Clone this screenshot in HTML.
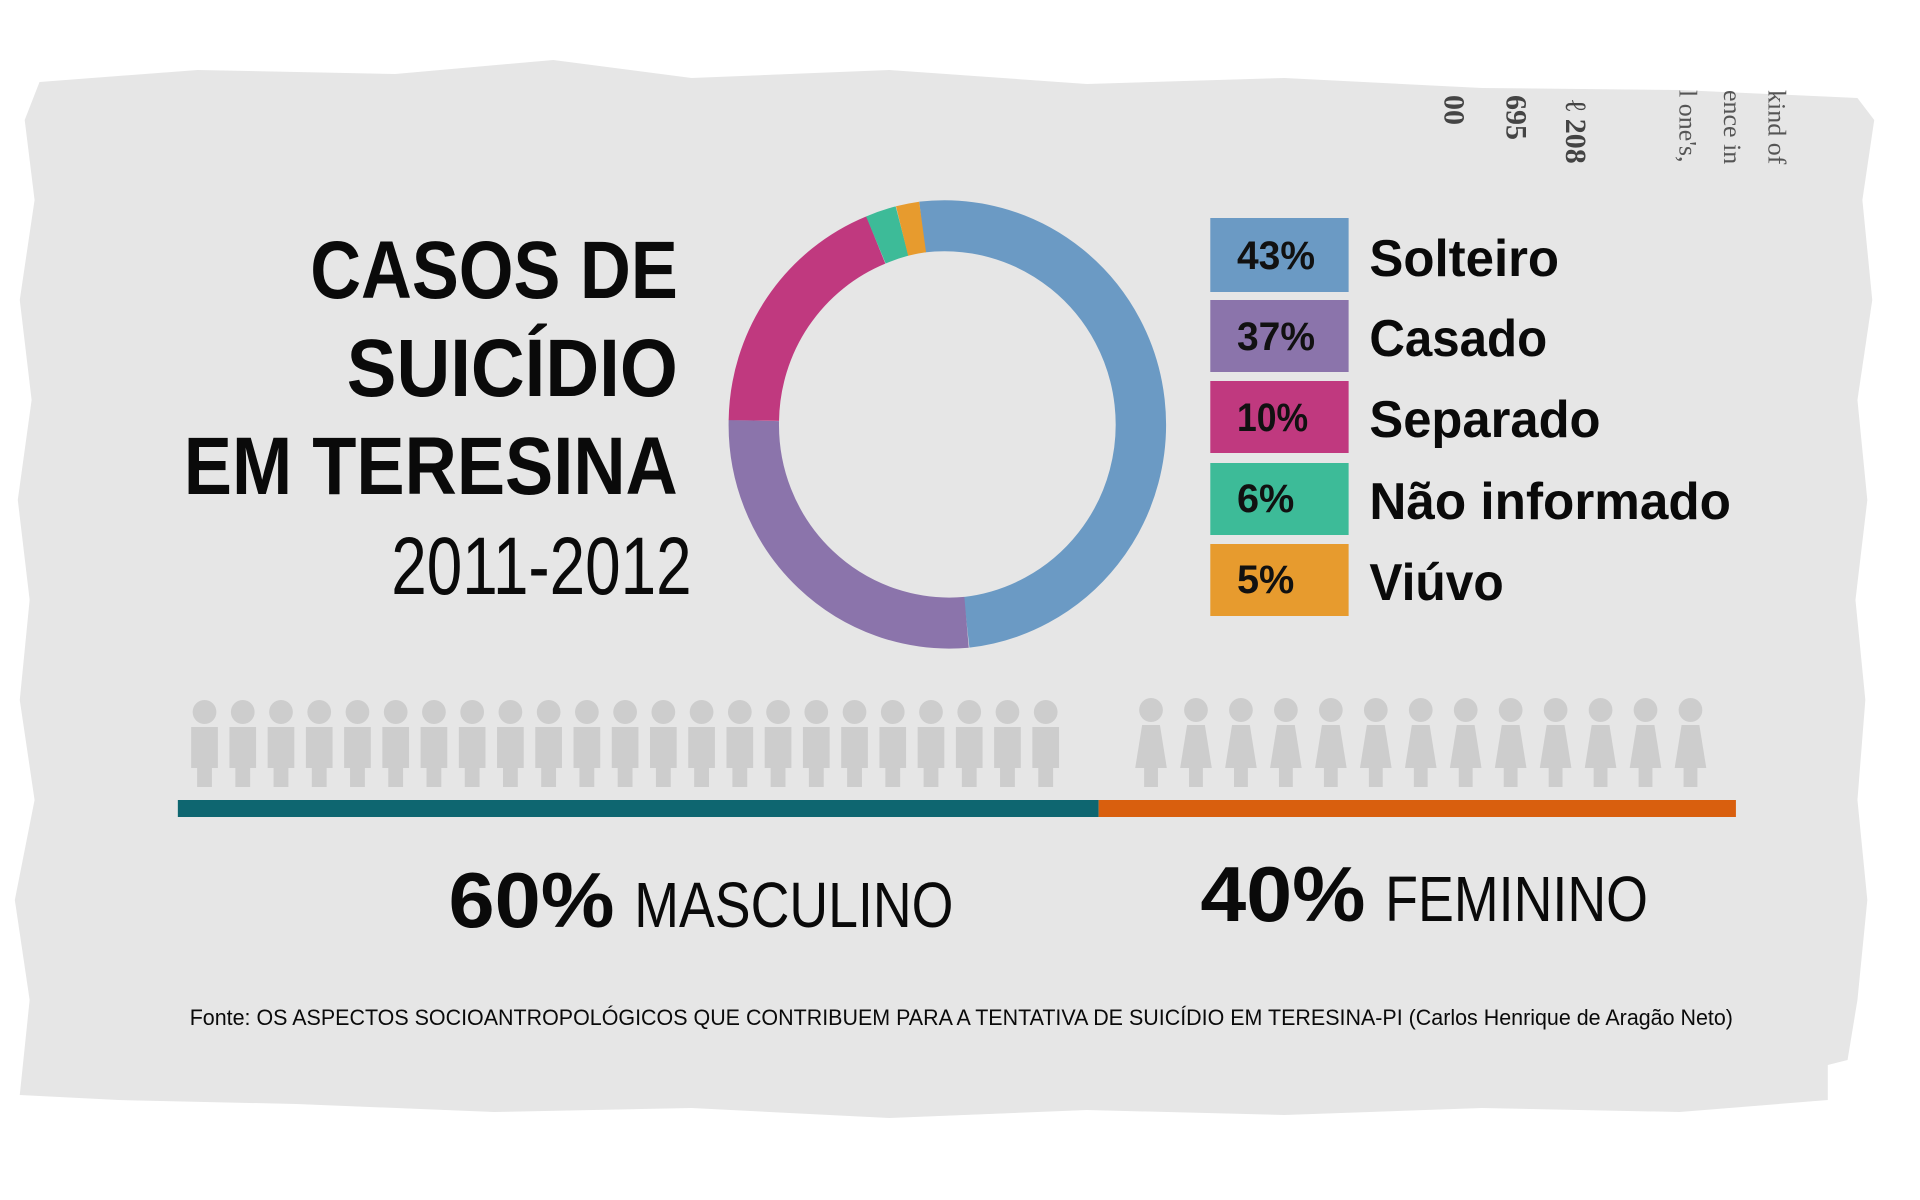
<!DOCTYPE html>
<html><head><meta charset="utf-8"><style>
html,body{margin:0;padding:0;background:#fff;width:1920px;height:1200px;overflow:hidden}
svg{display:block}
</style></head><body>
<svg width="1920" height="1200" viewBox="0 0 1920 1200" xmlns="http://www.w3.org/2000/svg">
<g transform="matrix(0.988 0 0 1 0 0)">
<polygon fill="#e6e6e6" points="40,82 200,70 400,74 560,60 700,78 900,70 1100,84 1300,78 1500,88 1700,90 1880,98 1897,120 1885,200 1895,300 1880,400 1890,500 1878,600 1888,700 1880,800 1890,900 1880,1000 1870,1060 1850,1065 1850,1100 1700,1112 1500,1108 1300,1115 1100,1110 900,1118 700,1108 500,1112 300,1104 120,1100 20,1095 30,1000 15,900 35,800 20,700 30,600 18,500 32,400 20,300 35,200 25,120"/>
<g font-family="Liberation Serif, serif" fill="#444" font-size="30" font-weight="bold">
<text transform="translate(1462,95) rotate(90)">00</text>
<text transform="translate(1525,95) rotate(90)">695</text>
<text transform="translate(1585,100) rotate(90)">ℓ 208</text>
</g>
<g font-family="Liberation Serif, serif" fill="#555" font-size="26">
<text transform="translate(1700,90) rotate(90)">l one's,</text>
<text transform="translate(1745,90) rotate(90)">ence in</text>
<text transform="translate(1790,90) rotate(90)">kind of</text>
</g>
<g font-family="Liberation Sans, sans-serif" fill="#0a0a0a" font-weight="bold" font-size="82" text-anchor="end">
<text x="686" y="298" textLength="372" lengthAdjust="spacingAndGlyphs">CASOS DE</text>
<text x="686" y="396" textLength="335" lengthAdjust="spacingAndGlyphs">SUICÍDIO</text>
<text x="686" y="494" textLength="500" lengthAdjust="spacingAndGlyphs">EM TERESINA</text>
<text x="700" y="594" font-weight="normal" textLength="304" lengthAdjust="spacingAndGlyphs">2011-2012</text>
</g>
<g fill="none" stroke-width="51">
<path stroke="#6b9ac4" d="M933.3,227 A198,198 0 1 1 978.3,622.3"/>
<path stroke="#8b74ab" d="M978.3,622.3 A198,198 0 0 1 763,420.5"/>
<path stroke="#c0397f" d="M763,420.5 A198,198 0 0 1 886.5,240"/>
<path stroke="#3dbb98" d="M886.5,240 A198,198 0 0 1 913,231"/>
<path stroke="#e79b2e" d="M913,231 A198,198 0 0 1 933.8,227"/>
</g>
<rect x="1225" y="218" width="140" height="74" fill="#6b9ac4"/>
<rect x="1225" y="300" width="140" height="72" fill="#8b74ab"/>
<rect x="1225" y="381" width="140" height="72" fill="#c0397f"/>
<rect x="1225" y="463" width="140" height="72" fill="#3dbb98"/>
<rect x="1225" y="544" width="140" height="72" fill="#e79b2e"/>
<g font-family="Liberation Sans, sans-serif" fill="#111" font-weight="bold" font-size="40">
<text x="1252" y="269" textLength="79" lengthAdjust="spacingAndGlyphs">43%</text>
<text x="1252" y="350" textLength="79" lengthAdjust="spacingAndGlyphs">37%</text>
<text x="1252" y="431" textLength="72" lengthAdjust="spacingAndGlyphs">10%</text>
<text x="1252" y="512" textLength="58" lengthAdjust="spacingAndGlyphs">6%</text>
<text x="1252" y="593" textLength="58" lengthAdjust="spacingAndGlyphs">5%</text>
</g>
<g font-family="Liberation Sans, sans-serif" fill="#0a0a0a" font-weight="bold" font-size="52">
<text x="1386" y="276" textLength="192" lengthAdjust="spacingAndGlyphs">Solteiro</text>
<text x="1386" y="356" textLength="180" lengthAdjust="spacingAndGlyphs">Casado</text>
<text x="1386" y="437" textLength="234" lengthAdjust="spacingAndGlyphs">Separado</text>
<text x="1386" y="519" textLength="366" lengthAdjust="spacingAndGlyphs">Não informado</text>
<text x="1386" y="600" textLength="136" lengthAdjust="spacingAndGlyphs">Viúvo</text>
</g>
<defs>
<g id="m" fill="#cdcdcd"><circle cx="0" cy="712" r="12"/><rect x="-13.5" y="727" width="27" height="41"/><rect x="-7.5" y="768" width="15" height="19"/></g>
<g id="f" fill="#cdcdcd"><circle cx="0" cy="710" r="12"/><polygon points="-9,725 9,725 16,768 -16,768"/><rect x="-7" y="768" width="14" height="19"/></g>
</defs>
<g>
<use href="#m" x="207"/><use href="#m" x="245.7"/><use href="#m" x="284.4"/><use href="#m" x="323.1"/><use href="#m" x="361.8"/><use href="#m" x="400.5"/><use href="#m" x="439.2"/><use href="#m" x="477.9"/><use href="#m" x="516.6"/><use href="#m" x="555.3"/><use href="#m" x="594"/><use href="#m" x="632.7"/><use href="#m" x="671.4"/><use href="#m" x="710.1"/><use href="#m" x="748.8"/><use href="#m" x="787.5"/><use href="#m" x="826.2"/><use href="#m" x="864.9"/><use href="#m" x="903.6"/><use href="#m" x="942.3"/><use href="#m" x="981"/><use href="#m" x="1019.7"/><use href="#m" x="1058.4"/>
</g>
<g transform="translate(15,0)">
<use href="#f" x="1150"/><use href="#f" x="1195.5"/><use href="#f" x="1241"/><use href="#f" x="1286.5"/><use href="#f" x="1332"/><use href="#f" x="1377.5"/><use href="#f" x="1423"/><use href="#f" x="1468.5"/><use href="#f" x="1514"/><use href="#f" x="1559.5"/><use href="#f" x="1605"/><use href="#f" x="1650.5"/><use href="#f" x="1696"/>
</g>
<rect x="180" y="800" width="932" height="17" fill="#0e6670"/>
<rect x="1112" y="800" width="645" height="17" fill="#d95f0e"/>
<g font-family="Liberation Sans, sans-serif" fill="#0a0a0a">
<text x="454" y="927" font-weight="bold" font-size="78" textLength="168" lengthAdjust="spacingAndGlyphs">60%</text>
<text x="642" y="927" font-size="64" textLength="323" lengthAdjust="spacingAndGlyphs">MASCULINO</text>
<text x="1215" y="921" font-weight="bold" font-size="78" textLength="167" lengthAdjust="spacingAndGlyphs">40%</text>
<text x="1402" y="921" font-size="64" textLength="266" lengthAdjust="spacingAndGlyphs">FEMININO</text>
<text x="192" y="1025" font-size="22" textLength="1562" lengthAdjust="spacingAndGlyphs">Fonte: OS ASPECTOS SOCIOANTROPOLÓGICOS QUE CONTRIBUEM PARA A TENTATIVA DE SUICÍDIO EM TERESINA-PI (Carlos Henrique de Aragão Neto)</text>
</g>
</g>
</svg>
</body></html>
